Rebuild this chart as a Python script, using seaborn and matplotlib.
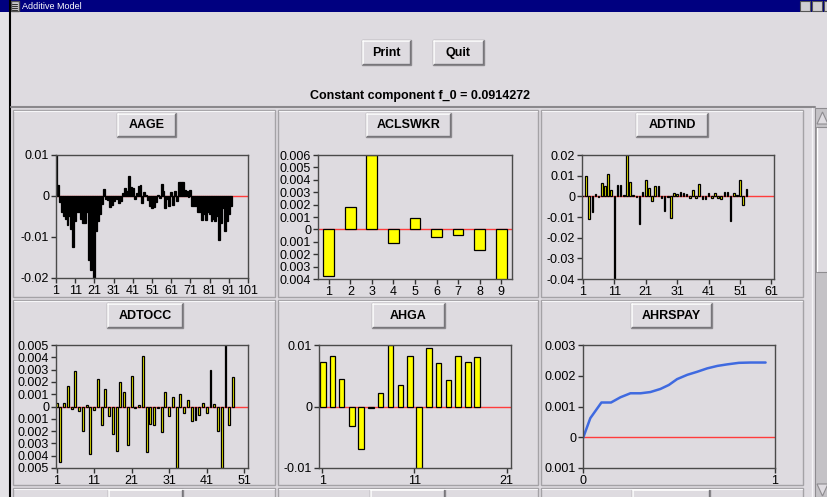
import numpy as np
import pandas as pd
import matplotlib
matplotlib.use("Agg")
import matplotlib.pyplot as plt
from matplotlib.patches import Rectangle, Polygon
import seaborn as sns

# ---- values ----
f0_text = "Constant component f_0 = 0.0914272"

aage_vals = [0.01, 0.0028, -0.0015, -0.004, -0.005, -0.0055, -0.007, -0.005, -0.008, -0.0125,
             -0.006, -0.004, -0.004, -0.0055, -0.0065, -0.0065, -0.004, -0.0155, -0.018, -0.0155,
             -0.02, -0.0085, -0.006, -0.0045, -0.002, 0.0018, -0.0007, -0.001, -0.0028, -0.0022,
             -0.0012, -0.0005, -0.0008, -0.0016, -0.0012, 0.0008, 0.002, 0.0012, 0.0048, 0.0022,
             0.002, -0.0008, 0.0008, 0.0025, 0.0026, -0.0018, 0.001, 0.0003, -0.001, -0.0025,
             -0.003, -0.0028, -0.0015, 0.0003, -0.0005, 0.003, 0.0012, -0.003, -0.0008, -0.0025,
             0.001, -0.0022, 0.0012, -0.0012, 0.0035, 0.0033, 0.0035, 0.0015, 0.0012, -0.0003,
             0.0015, -0.0025, -0.0025, -0.0025, -0.004, -0.0038, -0.0058, -0.0045, -0.0058, -0.004,
             -0.0045, -0.006, -0.0055, -0.0062, -0.005, -0.0108, -0.0065, -0.003, -0.0085, -0.006,
             -0.0045, -0.0025]

aclswkr_vals = [-0.00376, 0.00177, 0.006, -0.00113, 0.00089, -0.00062, -0.00046, -0.0017, -0.0045]

adtind_vals = [0.0003, 0.01, -0.011, -0.0077, 0.001, -0.0005, 0.0065, 0.005, 0.011, 0.003,
               -0.04, 0.0055, 0.0055, 0.0005, 0.02, 0.007, 0.0005, -0.0005, -0.0133, 0.002,
               0.008, 0.004, -0.0022, 0.005, 0.005, -0.001, -0.007, -0.0005, -0.0103, 0.0015,
               0.001, 0.002, 0.0015, 0.001, -0.001, 0.003, -0.001, 0.006, -0.0015, -0.0015,
               0.0015, -0.0008, 0.0015, -0.0008, -0.0015, 0.002, 0.002, -0.0118, 0.0015, 0.0005,
               0.008, -0.0043, 0.0035]

adtocc_vals = [0.0003, -0.0045, 0.0003, 0.0017, -0.0002, 0.0029, -0.0004, -0.002, 0.0001, -0.0039,
               -0.0003, 0.0022, -0.0015, 0.0014, -0.0008, -0.0022, -0.0036, 0.002, 0.0012, -0.0031,
               0.0025, -0.0001, 0.0001, 0.0041, -0.0037, -0.0014, -0.0015, -0.0001, -0.0021, 0.0012,
               -0.0008, 0.0008, -0.005, 0.001, -0.0005, 0.0005, -0.0012, -0.0011, -0.0007, 0.0003,
               -0.0005, 0.003, 0.0002, -0.002, -0.005, 0.005, -0.0015, 0.0024]

ahga_x = [1.1, 2.1, 3.1, 4.2, 5.2, 6.3, 7.3, 8.4, 9.5, 10.5, 11.5, 12.6, 13.6, 14.7, 15.7, 16.8, 17.8]
ahga_vals = [0.0072, 0.0082, 0.0045, -0.0032, -0.0069, -0.0002, 0.0022, 0.01, 0.0035, 0.0082,
             -0.011, 0.0095, 0.007, 0.0043, 0.0082, 0.0073, 0.008]

ahrspay_x = [0.0, 0.038, 0.096, 0.146, 0.195, 0.247, 0.30, 0.351, 0.403, 0.447, 0.49,
             0.543, 0.595, 0.647, 0.70, 0.751, 0.812, 0.873, 0.951]
ahrspay_y = [-0.00003, 0.00062, 0.00113, 0.00113, 0.0013, 0.00143, 0.00143, 0.00147, 0.00157,
             0.0017, 0.00189, 0.00203, 0.00213, 0.00224, 0.00232, 0.00237, 0.00242, 0.00243, 0.00243]

BG = "#dedbe0"
W, H = 828, 497

sns.set_style("ticks")
plt.rcParams["font.family"] = ["Liberation Sans", "DejaVu Sans"]
BOLD = ["Liberation Sans Narrow", "Liberation Sans", "DejaVu Sans"]

fig = plt.figure(figsize=(W / 100, H / 100), dpi=100, facecolor=BG)

# background layer in pixel coordinates for the window chrome
bg = fig.add_axes([0, 0, 1, 1], zorder=-10)
bg.set_xlim(0, W)
bg.set_ylim(H, 0)
bg.axis("off")


def box(x0, y0, x1, y1, **kw):
    bg.add_patch(Rectangle((x0, y0), x1 - x0, y1 - y0, **kw))


def button(x0, y0, x1, y1, label=None, size=9):
    box(x0, y0, x1, y1, facecolor=BG, edgecolor="#8e8c90", lw=1)
    bg.plot([x0 + 1, x1 - 1], [y0 + 1, y0 + 1], color="white", lw=1.2)
    bg.plot([x0 + 1, x0 + 1], [y0 + 1, y1 - 1], color="white", lw=1.2)
    bg.plot([x0 + 1, x1 - 1], [y1 - 1, y1 - 1], color="#77757a", lw=1)
    bg.plot([x1 - 1, x1 - 1], [y0 + 1, y1 - 1], color="#77757a", lw=1)
    if label:
        bg.text((x0 + x1) / 2, (y0 + y1) / 2 + 0.5, label, ha="center", va="center",
                fontsize=size, fontweight="bold", family=BOLD, color="black")


# title bar
box(0, 0, W, 12, facecolor="#000080", edgecolor="none")
box(11, 1, 19, 11, facecolor="#d0ced2", edgecolor="#555")
for yy in (3.5, 5.5, 7.5, 9.5):
    bg.plot([12.5, 17.5], [yy, yy], color="#333", lw=0.8)
bg.text(22, 6.5, "Additive Model", color="white", fontsize=6.5, va="center", ha="left")
for xx in (800, 812, 824):
    box(xx, 1, xx + 10, 11, facecolor="#d0ced2", edgecolor="#555", lw=0.8)

# window border
box(0, 12, 10, H, facecolor="#e4e2e6", edgecolor="none")
bg.plot([10.5, 10.5], [0, H], color="black", lw=1.5)

# top buttons + constant text
button(362, 40, 411, 65, "Print", 9)
button(433, 40, 484, 65, "Quit", 9)
bg.text(420, 96, f0_text, ha="center", va="center", fontsize=9, fontweight="bold",
        family=BOLD, color="black")

# scroll pane frame
bg.plot([11, 815], [106.5, 106.5], color="#8a888c", lw=1.5)
bg.plot([812, 812], [108, H], color="#f4f4f6", lw=1)

# panels
cols = [(13, 275), (278, 538), (541, 803)]
rows = [(110, 297), (300, 485), (488, 520)]
for (y0, y1) in rows:
    for (x0, x1) in cols:
        box(x0, y0, x1, y1, facecolor="none", edgecolor="#a4a2a6", lw=1)
        bg.plot([x0 + 1, x1 - 1], [y0 + 1, y0 + 1], color="#f6f6f8", lw=0.8)

names = [["AAGE", "ACLSWKR", "ADTIND"], ["ADTOCC", "AHGA", "AHRSPAY"]]
btn_x = [[(117, 176), (366, 451), (636, 708)], [(107, 183), (372, 445), (631, 712)]]
btn_y = [(113, 137), (303, 328)]
for r in range(2):
    for c in range(3):
        button(btn_x[r][c][0], btn_y[r][0], btn_x[r][c][1], btn_y[r][1], names[r][c], 9)
for (x0, x1) in [(108, 183), (370, 445), (632, 710)]:
    button(x0, 489, x1, 515)

# scrollbar
box(815, 108, W, H, facecolor="#c4c2c6", edgecolor="#8e8c90", lw=0.8)
box(816, 127, W, 272, facecolor=BG, edgecolor="#8e8c90", lw=0.8)
bg.plot([817, 817], [128, 271], color="white", lw=1)
bg.add_patch(Polygon([[817, 124], [828, 124], [822.5, 112]], closed=True,
                     facecolor=BG, edgecolor="#8e8c90", lw=0.8))
bg.add_patch(Polygon([[817, 484], [828, 484], [822.5, 496]], closed=True,
                     facecolor=BG, edgecolor="#8e8c90", lw=0.8))


# ---- the six component plots ----
def px_axes(x0, y0, x1, y1):
    ax = fig.add_axes([x0 / W, 1 - y1 / H, (x1 - x0) / W, (y1 - y0) / H])
    ax.set_facecolor(BG)
    for s in ax.spines.values():
        s.set_color("#4a4a4a")
        s.set_linewidth(1)
    ax.tick_params(direction="out", length=3.5, width=1, color="#333", pad=1.5,
                   labelsize=9, labelcolor="black")
    ax.axhline(0, color="#ff3c3c", lw=1, zorder=0.5)
    return ax


def bars(ax, x, y, width, color):
    df = pd.DataFrame({"x": x, "y": y})
    sns.barplot(data=df, x="x", y="y", native_scale=True, width=width, color=color,
                saturation=1, edgecolor="black", linewidth=0.9, errorbar=None, ax=ax)
    ax.set_xlabel("")
    ax.set_ylabel("")


def ylabels(ax, ticks, labels):
    ax.set_yticks(ticks)
    ax.set_yticklabels(labels)


# AAGE
ax = px_axes(56, 155, 248, 278)
bars(ax, np.arange(1, len(aage_vals) + 1), aage_vals, 1.0, "black")
ax.set_xlim(1, 101)
ax.set_ylim(-0.02, 0.01)
ax.set_xticks(range(1, 102, 10))
ax.set_xticklabels([str(v) for v in range(1, 102, 10)])
ylabels(ax, [0.01, 0, -0.01, -0.02], ["0.01", "0", "-0.01", "-0.02"])

# ACLSWKR
ax = px_axes(318, 155, 512, 279)
bars(ax, np.arange(1, len(aclswkr_vals) + 1), aclswkr_vals, 0.5, "#ffff00")
ax.set_xlim(0.5, 9.5)
ax.set_ylim(-0.004, 0.006)
ax.set_xticks(range(1, 10))
ax.set_xticklabels([str(v) for v in range(1, 10)])
t = [0.006, 0.005, 0.004, 0.003, 0.002, 0.001, 0, -0.001, -0.002, -0.003, -0.004]
ylabels(ax, t, ["0.006", "0.005", "0.004", "0.003", "0.002", "0.001", "0",
                "0.001", "0.002", "0.003", "0.004"])

# ADTIND
ax = px_axes(582, 155, 774, 279)
bars(ax, np.arange(1, len(adtind_vals) + 1), adtind_vals, 0.5, "#ffff00")
ax.set_xlim(0.7, 61.8)
ax.set_ylim(-0.04, 0.02)
ax.set_xticks(range(1, 62, 10))
ax.set_xticklabels([str(v) for v in range(1, 62, 10)])
t = [0.02, 0.01, 0, -0.01, -0.02, -0.03, -0.04]
ylabels(ax, t, ["0.02", "0.01", "0", "-0.01", "-0.02", "-0.03", "-0.04"])

# ADTOCC
ax = px_axes(56, 345, 248, 468)
bars(ax, np.arange(1, len(adtocc_vals) + 1), adtocc_vals, 0.5, "#ffff00")
ax.set_xlim(0.85, 52)
ax.set_ylim(-0.005, 0.005)
ax.set_xticks(range(1, 52, 10))
ax.set_xticklabels([str(v) for v in range(1, 52, 10)])
t = [0.005, 0.004, 0.003, 0.002, 0.001, 0, -0.001, -0.002, -0.003, -0.004, -0.005]
ylabels(ax, t, ["0.005", "0.004", "0.003", "0.002", "0.001", "0",
                "0.001", "0.002", "0.003", "0.004", "0.005"])

# AHGA
ax = px_axes(319, 345, 511, 468)
bars(ax, ahga_x, ahga_vals, 0.6, "#ffff00")
ax.set_xlim(0.64, 21.47)
ax.set_ylim(-0.01, 0.01)
ax.set_xticks([1, 11, 21])
ax.set_xticklabels(["1", "11", "21"])
ylabels(ax, [0.01, 0, -0.01], ["0.01", "0", "-0.01"])

# AHRSPAY
ax = px_axes(583, 345, 775, 468)
sns.lineplot(x=ahrspay_x, y=ahrspay_y, color="#3f6ae0", lw=1.8, ax=ax)
ax.set_xlim(0, 1)
ax.set_ylim(-0.001, 0.003)
ax.set_xticks([0, 1])
ax.set_xticklabels(["0", "1"])
ylabels(ax, [0.003, 0.002, 0.001, 0, -0.001], ["0.003", "0.002", "0.001", "0", "0.001"])

fig.savefig("out.png", dpi=100, facecolor=BG)
